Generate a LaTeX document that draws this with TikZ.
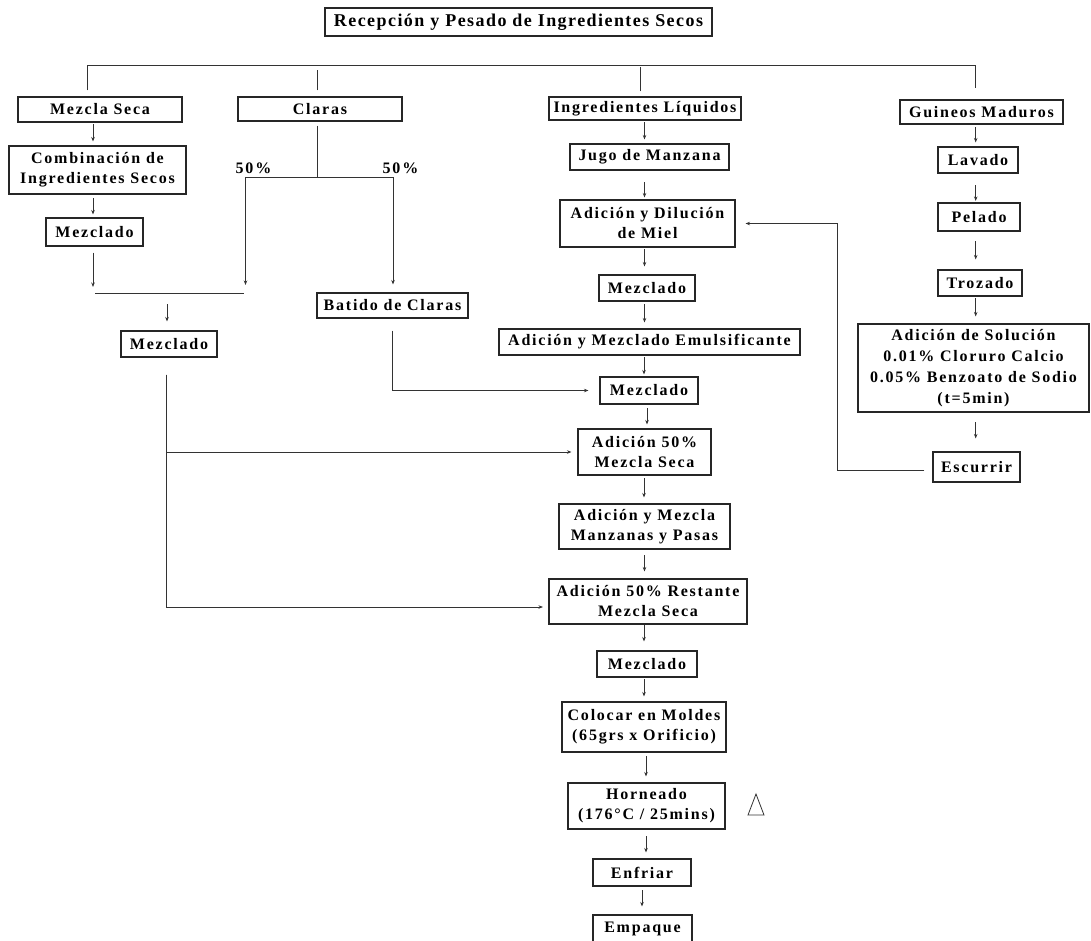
\documentclass[tikz,border=0pt]{standalone}
\usepackage{fontspec}
\setmainfont{Liberation Serif}
\newfontfamily\boxfont[LetterSpace=11]{Liberation Serif}
\newfontfamily\titlefont[LetterSpace=8]{Liberation Serif}
\usetikzlibrary{arrows.meta}

\begin{document}
\begin{tikzpicture}[x=1pt,y=-1pt,
  bx/.style={draw=black!85, line width=1.1pt, fill=white, inner sep=0pt, align=center,
             font=\boxfont\bfseries\fontsize{16}{20}\selectfont},
  wh/.style 2 args={minimum width=#1pt, minimum height=#2pt},
  ln/.style={draw=black!80, line width=1pt},
  arr/.style={ln, -{Stealth[length=4.5pt,width=3.5pt]}},
  pct/.style={inner sep=0pt, font=\boxfont\bfseries\fontsize{16}{18}\selectfont}]

\useasboundingbox (0,0) rectangle (1091,940);
\clip (0,0) rectangle (1091,940);

% ---------- title ----------
\node[bx, wh={387}{28}, font=\titlefont\bfseries\fontsize{18}{20}\selectfont] (title) at (518.5,22)
  {Recepción y Pesado de Ingredientes Secos};

% ---------- branch heads ----------
\node[bx, wh={164}{25}] (mseca)  at (100,109.5) {Mezcla Seca};
\node[bx, wh={164}{24}] (claras) at (320,109)   {Claras};
\node[bx, wh={192}{23}] (liq)    at (645,108.5) {Ingredientes Líquidos};
\node[bx, wh={163}{24}] (guin)   at (981.5,112) {Guineos Maduros};

% ---------- dry mix column ----------
\node[bx, wh={177}{48}] (comb) at (97.5,170) {Combinación de\\Ingredientes Secos};
\node[bx, wh={97}{28}]  (mez1) at (94.5,232) {Mezclado};
\node[bx, wh={96}{26}]  (mez2) at (169,344)  {Mezclado};

% ---------- egg whites ----------
\node[bx, wh={151}{25}] (batido) at (392.5,305.5) {Batido de Claras};
\node[pct] (p1) at (253.5,168) {50\%};
\node[pct] (p2) at (400.5,168) {50\%};

% ---------- liquid / main column ----------
\node[bx, wh={159}{26}] (jugo) at (649.5,157)   {Jugo de Manzana};
\node[bx, wh={175}{47}] (dil)  at (647.5,223.5) {Adición y Dilución\\de Miel};
\node[bx, wh={96}{26}]  (mezA) at (647,288)     {Mezclado};
\node[bx, wh={301}{26}] (emul) at (649.5,342)   {Adición y Mezclado Emulsificante};
\node[bx, wh={98}{27}]  (mezB) at (649,390.5)   {Mezclado};
\node[bx, wh={133}{46}] (ad50) at (644.5,452)   {Adición 50\%\\Mezcla Seca};
\node[bx, wh={171}{45}] (manz) at (644.5,526.5) {Adición y Mezcla\\Manzanas y Pasas};
\node[bx, wh={198}{45}] (rest) at (648,601.5)   {Adición 50\% Restante\\Mezcla Seca};
\node[bx, wh={100}{26}] (mezC) at (647,664)     {Mezclado};
\node[bx, wh={164}{50}] (mold) at (644,727)     {Colocar en Moldes\\(65grs x Orificio)};
\node[bx, wh={157}{46}] (horn) at (646.5,806)   {Horneado\\(176°C / 25mins)};
\node[bx, wh={98}{27}]  (enf)  at (642,872.5)   {Enfriar};
\node[bx, wh={99}{28}]  (emp)  at (642.5,929)   {Empaque};

% ---------- bananas column ----------
\node[bx, wh={80}{26}]  (lav)  at (978,160)   {Lavado};
\node[bx, wh={82}{28}]  (pel)  at (979,217)   {Pelado};
\node[bx, wh={84}{26}]  (troz) at (980,283)   {Trozado};
\node[bx, wh={231}{88}, font=\boxfont\bfseries\fontsize{16}{21}\selectfont] (sol) at (973.5,368)
  {Adición de Solución\\0.01\% Cloruro Calcio\\0.05\% Benzoato de Sodio\\(t=5min)};
\node[bx, wh={87}{30}]  (esc)  at (976.5,467) {Escurrir};

% heat symbol beside the baking step
\draw[ln, line width=0.8pt] (748,815) -- (756,794) -- (764,815) -- cycle;

% ---------- distribution bus ----------
\coordinate (busL) at (87,65);
\coordinate (busR) at (975,65);
\draw[ln] ([yshift=6pt]mseca.north -| busL) -- (busL) -- (busR) -- ([yshift=11pt]guin.north -| busR);
\draw[ln] ([shift={(-3,-6)}]claras.north) -- ([shift={(-3,-26)}]claras.north);
\draw[ln] ([shift={(-4.5,-5)}]liq.north) -- ([shift={(-4.5,-29)}]liq.north);

% ---------- dry mix flow ----------
\draw[arr] ([shift={(-4.5,-21)}]comb.north) -- ([shift={(-4.5,-4)}]comb.north);
\draw[arr] ([shift={(-1.5,-19)}]mez1.north) -- ([shift={(-1.5,-3)}]mez1.north);
\coordinate (jl) at (95,293);
\coordinate (jr) at (244,293);
\draw[ln] (jl) -- (jr);
\draw[arr] ([shift={(-1.5,6)}]mez1.south) -- ([shift={(-2,-6)}]jl);
\draw[arr] ([shift={(-2,-26)}]mez2.north) -- ([shift={(-2,-9)}]mez2.north);

% ---------- egg white split ----------
\coordinate (split) at (317,177);
\draw[ln] ([shift={(-3,4)}]claras.south) -- (split);
\draw[arr] (split) -| ([shift={(1.5,-8)}]jr);
\draw[arr] (split) -| ([shift={(0.5,-8)}]batido.north);
\draw[arr] ([yshift=-12pt]batido.south) |- ([xshift=-11pt]mezB.west);

% ---------- dry mix into main line ----------
\draw[arr] ([shift={(-3,17)}]mez2.south) |- ([xshift=-6pt]ad50.west);
\draw[arr] ([shift={(-3,17)}]mez2.south) |- ([shift={(-5.5,5.5)}]rest.west);

% ---------- main column arrows ----------
\draw[arr] ([shift={(-5,-21)}]jugo.north) -- ([shift={(-5,-4)}]jugo.north);
\draw[arr] ([shift={(-3,-17)}]dil.north)  -- ([shift={(-3,-2)}]dil.north);
\draw[arr] ([shift={(-2.5,-25)}]mezA.north) -- ([shift={(-2.5,-8)}]mezA.north);
\draw[arr] ([shift={(-5,-24)}]emul.north) -- ([shift={(-5,-6)}]emul.north);
\draw[arr] ([shift={(-5,-19)}]mezB.north) -- ([shift={(-5,-2)}]mezB.north);
\draw[arr] ([shift={(2.5,-20)}]ad50.north) -- ([shift={(2.5,-4)}]ad50.north);
\draw[arr] ([shift={(-0.5,-25)}]manz.north) -- ([shift={(-0.5,-6)}]manz.north);
\draw[arr] ([shift={(-3.5,-23)}]rest.north) -- ([shift={(-3.5,-7)}]rest.north);
\draw[arr] ([shift={(-3,-25)}]mezC.north) -- ([shift={(-3,-9)}]mezC.north);
\draw[arr] ([shift={(0,-22)}]mold.north) -- ([shift={(0,-5)}]mold.north);
\draw[arr] ([shift={(-0.5,-26)}]horn.north) -- ([shift={(-0.5,-6)}]horn.north);
\draw[arr] ([shift={(4,-22)}]enf.north) -- ([shift={(4,-6)}]enf.north);
\draw[arr] ([shift={(-0.5,-24)}]emp.north) -- ([shift={(-0.5,-8)}]emp.north);

% ---------- bananas arrows ----------
\draw[arr] ([shift={(-2.3,-19)}]lav.north) -- ([shift={(-2.3,-4)}]lav.north);
\draw[arr] ([shift={(-3.3,-17)}]pel.north) -- ([shift={(-3.3,-1.5)}]pel.north);
\draw[arr] ([shift={(-4.3,-28)}]troz.north) -- ([shift={(-4.3,-10)}]troz.north);
\draw[arr] ([shift={(2.2,-25)}]sol.north) -- ([shift={(2.2,-7)}]sol.north);
\draw[arr] ([shift={(-0.8,-29)}]esc.north) -- ([shift={(-0.8,-13)}]esc.north);
\draw[arr] ([shift={(-8,3)}]esc.west) -| ([xshift=102pt]dil.east) -- ([xshift=10pt]dil.east);

\end{tikzpicture}
\end{document}
